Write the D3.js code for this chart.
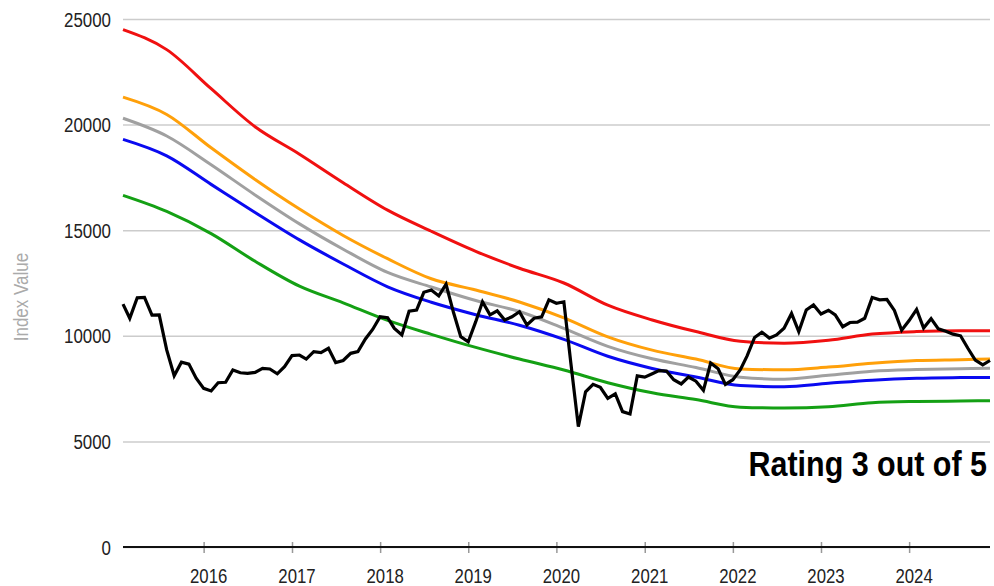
<!DOCTYPE html>
<html>
<head>
<meta charset="utf-8">
<script src="https://cdn.jsdelivr.net/npm/d3@7"></script>
<style>
  html, body { margin: 0; padding: 0; background: #fff; }
  svg { display: block; }
  .lbl { font-family: "Liberation Sans Narrow", "Arial Narrow", "Liberation Sans", Arial, sans-serif; }
</style>
</head>
<body>
<script>
// ---------------- DATA ----------------
const startMonth = "2015-02";   // first monthly observation of the index
const indexValues = [
  11500, 10830, 11800, 11820, 10980, 10990, 9330, 8110, 8750, 8660,
  7990, 7510, 7390, 7780, 7800, 8380, 8250, 8220, 8270, 8460,
  8430, 8200, 8540, 9060, 9090, 8900, 9250, 9200, 9410, 8730,
  8830, 9170, 9250, 9850, 10300, 10900, 10860, 10350, 10040, 11170,
  11220, 12060, 12170, 11890, 12440, 11100, 9960, 9720, 10670, 11610,
  10990, 11180, 10750, 10900, 11140, 10510, 10830, 10900, 11700, 11540,
  11610, 8700, 5700, 7350, 7700, 7560, 7040, 7250, 6410, 6300,
  8100, 8040, 8200, 8350, 8330, 7920, 7720, 8050, 7850, 7420,
  8710, 8440, 7700, 7920, 8400, 9050, 9920, 10170, 9890, 10040,
  10360, 11060, 10200, 11220, 11460, 11030, 11210, 10990, 10430, 10630,
  10650, 10830, 11810, 11700, 11720, 11200, 10260, 10720, 11250, 10370,
  10810, 10330, 10220, 10080, 10000, 9400, 8850, 8620, 8830
];

const bandMonths = ["2015-02","2015-08","2016-02","2016-08","2017-02","2017-08","2018-02",
  "2018-08","2019-02","2019-08","2020-02","2020-08","2021-02","2021-08","2022-02","2022-08",
  "2023-02","2023-08","2024-02","2024-08","2024-12"];
const redBand    = [24500,23550,21700,19900,18600,17250,15950,14950,14000,13200,12500,11450,10750,10200,9740,9650,9790,10080,10200,10240,10240];
const orangeBand = [21300,20480,18900,17400,16000,14750,13650,12700,12170,11600,10850,9950,9320,8900,8430,8390,8520,8700,8830,8870,8900];
const grayBand   = [20300,19460,18100,16670,15300,14100,13000,12310,11670,11150,10350,9500,8910,8500,8040,7945,8130,8320,8400,8440,8460];
const blueBand   = [19300,18520,17170,15840,14540,13400,12320,11590,11000,10500,9830,9030,8455,8050,7650,7590,7750,7900,7990,8020,8030];
const greenBand  = [16650,15890,14840,13530,12350,11560,10730,10070,9450,8900,8380,7780,7300,6980,6620,6580,6640,6830,6890,6910,6930];

const yTicks = [0, 5000, 10000, 15000, 20000, 25000];
const xTickYears = [2016, 2017, 2018, 2019, 2020, 2021, 2022, 2023, 2024];
const yTitle = "Index Value";
const ratingText = "Rating 3 out of 5";

// ---------------- CHART ----------------
const W = 994, H = 586;
const mLeft = 123, mRight = 990, mTop = 19, mBottom = 547;
const parseM = d3.timeParse("%Y-%m");
const start = parseM(startMonth);
const indexSeries = indexValues.map((v, i) => ({ d: d3.timeMonth.offset(start, i), v }));
const bandDates = bandMonths.map(parseM);

const x = d3.scaleTime()
  .domain([start, d3.timeMonth.offset(start, indexValues.length - 1)])
  .range([mLeft, mRight]);
const y = d3.scaleLinear().domain([0, 25000]).range([mBottom, mTop]);

const svg = d3.select("body").append("svg").attr("width", W).attr("height", H);

// condense text horizontally (reference uses a narrow face)
function narrow(sel, factor) {
  sel.each(function () {
    const len = this.getComputedTextLength();
    d3.select(this).attr("textLength", (len * factor).toFixed(1)).attr("lengthAdjust", "spacingAndGlyphs");
  });
}

// grid + y labels
const yAxis = svg.append("g")
  .attr("transform", `translate(${mLeft},0)`)
  .call(d3.axisLeft(y).tickValues(yTicks).tickSizeInner(-(mRight - mLeft)).tickSizeOuter(0).tickPadding(12).tickFormat(d3.format("d")));
yAxis.select(".domain").remove();
yAxis.selectAll(".tick line").attr("stroke", "#cccccc").attr("stroke-width", 1.5);
yAxis.selectAll(".tick text").attr("class", "lbl").attr("font-size", 20).attr("fill", "#222").attr("dy", "0.35em")
  .call(narrow, 0.845);

// x axis
const xAxis = svg.append("g")
  .attr("transform", `translate(0,${mBottom})`)
  .call(d3.axisBottom(x).tickValues(xTickYears.map(yy => new Date(yy, 0, 1))).tickFormat(d3.timeFormat("%Y")).tickSizeOuter(0));
xAxis.select(".domain").remove();
xAxis.selectAll(".tick line").attr("y1", -5).attr("y2", 6).attr("stroke", "#999").attr("stroke-width", 1.5);
xAxis.selectAll(".tick text").attr("class", "lbl").attr("font-size", 19.5).attr("fill", "#222")
  .attr("y", 35.5).attr("dy", 0).attr("dx", 4.5)
  .call(narrow, 0.86);
svg.append("line").attr("x1", mLeft).attr("x2", mRight).attr("y1", y(0)).attr("y2", y(0))
  .attr("stroke", "#111").attr("stroke-width", 2);

// y title
svg.append("text").attr("class", "lbl")
  .attr("transform", `translate(28,${(mTop + mBottom) / 2 + 14}) rotate(-90)`)
  .attr("text-anchor", "middle").attr("font-size", 20).attr("fill", "#aaaaaa")
  .text(yTitle)
  .call(narrow, 0.85);

// bands
const bandLine = d3.line().x((d, i) => x(bandDates[i])).y(d => y(d)).curve(d3.curveMonotoneX);
const bands = [
  { vals: greenBand, color: "#14a014" },
  { vals: blueBand, color: "#0a0af0" },
  { vals: grayBand, color: "#a0a0a0" },
  { vals: orangeBand, color: "#ffa00a" },
  { vals: redBand, color: "#f01010" }
];
bands.forEach(b => {
  svg.append("path").attr("d", bandLine(b.vals)).attr("fill", "none")
    .attr("stroke", b.color).attr("stroke-width", 3).attr("stroke-linejoin", "round");
});

// index line
const idxLine = d3.line().x(d => x(d.d)).y(d => y(d.v));
svg.append("path").attr("d", idxLine(indexSeries)).attr("fill", "none")
  .attr("stroke", "#000").attr("stroke-width", 3.2).attr("stroke-linejoin", "miter").attr("stroke-miterlimit", 3);

// rating text (horizontally condensed via transform)
svg.append("g")
  .attr("transform", "translate(987,476) scale(0.87,1)")
  .append("text").attr("class", "lbl")
  .attr("x", 0).attr("y", 0).attr("text-anchor", "end")
  .attr("font-size", 35).attr("font-weight", "bold").attr("fill", "#000")
  .text(ratingText);
</script>
</body>
</html>
